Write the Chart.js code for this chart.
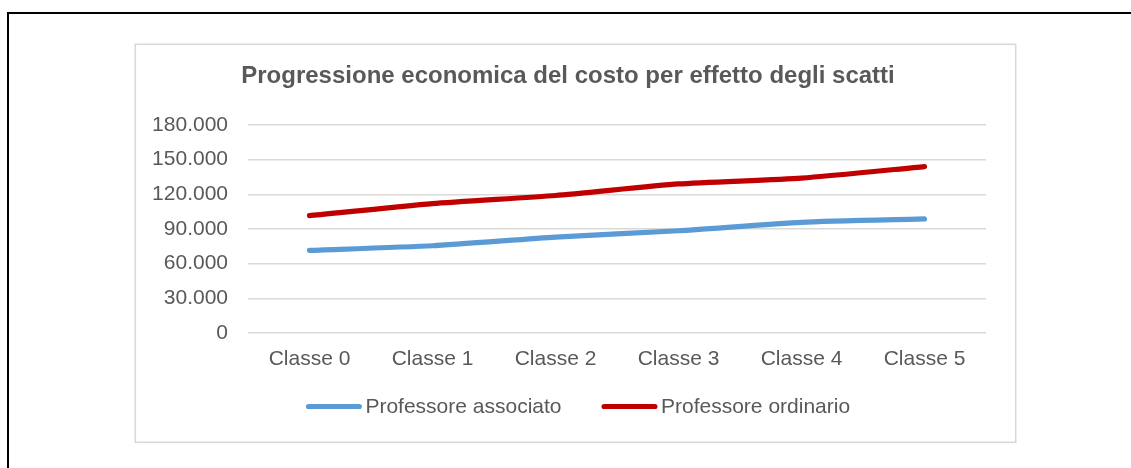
<!DOCTYPE html>
<html>
<head>
<meta charset="utf-8">
<script src="https://cdn.jsdelivr.net/npm/chart.js@4.4.0/dist/chart.umd.min.js"></script>
<style>
  html, body { margin: 0; padding: 0; background: #ffffff; }
  #wrap { width: 1131px; height: 468px; position: relative; }
  canvas { display: block; }
</style>
</head>
<body>
<div id="wrap"><canvas id="c" width="1131" height="468"></canvas></div>
<script>
// ---- data ----
const titleText = 'Progressione economica del costo per effetto degli scatti';
const categories = ['Classe 0', 'Classe 1', 'Classe 2', 'Classe 3', 'Classe 4', 'Classe 5'];
const seriesNames = ['Professore associato', 'Professore ordinario'];
const associato = [71500, 75500, 83000, 88500, 95800, 98700];
const ordinario = [101500, 112000, 119000, 129000, 134000, 144000];
const yMin = 0;
const yMax = 180000;
const yStep = 30000;

// ---- styles ----
const FONT = "'Liberation Sans', Arial, sans-serif";
const TEXT = '#595959';
const GRID = '#d9d9d9';
const COLORS = ['#5b9bd5', '#c00000'];

function fmt(v) {
  return String(v).replace(/\B(?=(\d{3})+(?!\d))/g, '.');
}

const framePlugin = {
  id: 'frame',
  beforeDraw(chart) {
    const ctx = chart.ctx;
    ctx.save();
    ctx.fillStyle = '#ffffff';
    ctx.fillRect(0, 0, chart.width, chart.height);
    // outer black frame (top + left)
    ctx.fillStyle = '#000000';
    ctx.fillRect(7, 12, chart.width - 7, 2);
    ctx.fillRect(7, 12, 2, chart.height - 12);
    // chart box
    ctx.strokeStyle = GRID;
    ctx.lineWidth = 1.6;
    ctx.strokeRect(135.3, 44.3, 880.4, 398);
    ctx.restore();
  }
};

const legendPlugin = {
  id: 'customLegend',
  afterDraw(chart) {
    const ctx = chart.ctx;
    ctx.save();
    ctx.font = '21px ' + FONT;
    const lineLen = 56, capR = 2.6, gapText = 3.5, gapItem = 40;
    const items = chart.data.datasets.map(ds => ({
      label: ds.label, color: ds.borderColor, w: ctx.measureText(ds.label).width
    }));
    let total = 0;
    items.forEach((it, i) => { total += lineLen + gapText + it.w + (i < items.length - 1 ? gapItem : 0); });
    let x = 578 - total / 2;
    const y = 406.5;
    items.forEach(it => {
      ctx.strokeStyle = it.color;
      ctx.lineWidth = 5.2;
      ctx.lineCap = 'round';
      ctx.beginPath();
      ctx.moveTo(x + capR, y);
      ctx.lineTo(x + lineLen - capR, y);
      ctx.stroke();
      ctx.fillStyle = TEXT;
      ctx.textAlign = 'left';
      ctx.textBaseline = 'middle';
      ctx.fillText(it.label, x + lineLen + gapText, y + 0.5);
      x += lineLen + gapText + it.w + gapItem;
    });
    ctx.restore();
  }
};

new Chart(document.getElementById('c'), {
  type: 'line',
  data: {
    labels: categories,
    datasets: [
      {
        label: seriesNames[0], data: associato,
        borderColor: COLORS[0], backgroundColor: COLORS[0],
        borderWidth: 5.2, pointRadius: 0, pointHoverRadius: 0,
        tension: 0.2, borderCapStyle: 'round', borderJoinStyle: 'round', fill: false
      },
      {
        label: seriesNames[1], data: ordinario,
        borderColor: COLORS[1], backgroundColor: COLORS[1],
        borderWidth: 5.2, pointRadius: 0, pointHoverRadius: 0,
        tension: 0.2, borderCapStyle: 'round', borderJoinStyle: 'round', fill: false
      }
    ]
  },
  options: {
    responsive: false,
    animation: false,
    devicePixelRatio: 1,
    layout: { padding: { left: 150, right: 145, top: 0, bottom: 0 } },
    plugins: {
      legend: { display: false },
      tooltip: { enabled: false },
      title: {
        display: true,
        text: titleText,
        color: TEXT,
        font: { family: FONT, size: 24, weight: 'bold', lineHeight: 1.2 },
        padding: { top: 62.4, bottom: 33.8 }
      }
    },
    scales: {
      x: {
        offset: true,
        grid: { display: false, drawTicks: false },
        border: { display: false },
        ticks: { color: TEXT, font: { family: FONT, size: 21 }, padding: 14, maxRotation: 0 },
        afterFit(scale) { scale.height = 135; }
      },
      y: {
        min: yMin, max: yMax,
        grid: { color: GRID, lineWidth: 1.5, drawTicks: false },
        border: { display: false },
        ticks: {
          stepSize: yStep, color: TEXT, padding: 20,
          font: { family: FONT, size: 21 },
          callback: v => fmt(v)
        },
        afterFit(scale) { scale.width = 98; }
      }
    }
  },
  plugins: [framePlugin, legendPlugin]
});
</script>
</body>
</html>
